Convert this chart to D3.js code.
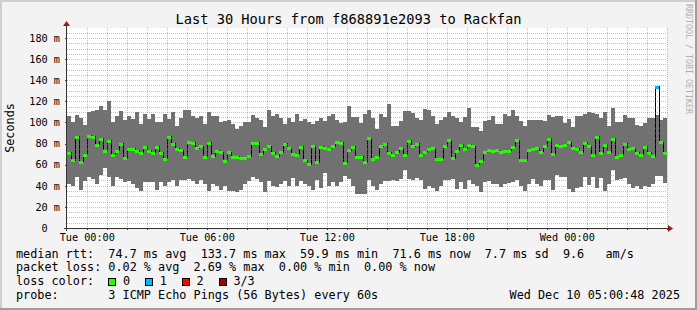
<!DOCTYPE html>
<html>
<head>
<meta charset="utf-8">
<script src="https://cdn.jsdelivr.net/npm/d3@7"></script>
<style>
  html, body { margin: 0; padding: 0; background: #f3f3f3; }
  svg { display: block; font-family: "DejaVu Sans Mono", monospace; }
  text { white-space: pre; }
</style>
</head>
<body>
<div id="graph-container"></div>
<script>
// Time range of the graph (last 30 hours) and 12 minute bins
var rangeStart = new Date(2025, 11, 8, 23, 0, 48);
var rangeEnd = new Date(2025, 11, 10, 5, 0, 48);
var binStart = new Date(2025, 11, 8, 23, 0, 0);
var binMinutes = 12;

// Smoke top (slowest ping), ms, one value per bin
var smokeHi = [
  106, 100, 107, 104.5, 97.6, 110, 110.8, 111.8, 115.6, 111.8, 120.3, 100.4, 106.1, 110.8, 102.3, 106.1, 103.3, 110, 98.5, 108, 103.3, 108, 100.4, 100.4, 108, 103.3, 110, 96.6, 104.2, 111.8,
  111.6, 105.9, 104, 105.9, 98.9, 109.7, 106.5, 106.5, 100.2, 101.4, 102.1, 98.3, 93.9, 96.4, 100.2, 100.2, 107.1, 104.6, 102.1, 95.8, 112.2, 105.9, 108.4, 104.6, 98.3, 104.6, 100.2, 108.4, 101.4, 103.3,
  100.2, 98.9, 101.4, 104.6, 101.4, 105.9, 108.4, 102.7, 99.6, 100.2, 115.4, 105.2, 105.2, 99.6, 108.4, 112.2, 104.6, 93.9, 107.8, 105.2, 117.9, 96.4, 97, 101.4, 110.9, 110.9, 109, 104.6, 102.1, 112.8,
  112.2, 105.9, 98.9, 102.1, 105.2, 110.3, 106.5, 104.6, 100.2, 105.2, 113.5, 95.8, 95.8, 92, 101.4, 102.1, 106.5, 98.9, 98.9, 107.8, 105.9, 112.2, 105.9, 101.4, 96.4, 102.1, 102.1, 102.1, 102.7, 101.4,
  107.1, 105.2, 105.9, 106.5, 99.6, 103.3, 95.8, 105.9, 105.9, 108.4, 110.3, 109, 107.8, 104.6, 110.3, 96.4, 114.1, 100.2, 100.2, 107.1, 104.6, 104.6, 97.7, 97, 99.6, 104, 104.6, 107, 102, 104.5
];

// Smoke bottom (fastest ping), ms
var smokeLo = [
  41.4, 39.5, 48.4, 36.4, 44.6, 48.4, 46.5, 42, 49.9, 57.2, 48.4, 39.5, 48.4, 46.5, 44, 44.6, 41.4, 38.2, 35.1, 43.6, 43.6, 43.6, 35.7, 43.6, 39.5, 43.6, 45.2, 40.1, 45.2, 45.2,
  46.5, 44.6, 41.4, 45.2, 41.4, 35.1, 41.4, 39.5, 35.7, 39.5, 35.1, 35.1, 34.5, 35.7, 41.4, 44.6, 48.4, 46.5, 43.3, 33.8, 44.6, 40.1, 38.9, 41.4, 44.6, 39.5, 47.7, 39.5, 44.6, 41.4,
  40.1, 36.4, 45.2, 38.2, 52.2, 39.5, 43.3, 39.5, 43.3, 49.6, 46.5, 39.5, 32.6, 32.6, 32.6, 45.2, 40.1, 36.4, 41.4, 44.6, 44.6, 45.2, 44.6, 46.5, 55.3, 46.5, 45.8, 47.7, 45.2, 37,
  39.5, 38.2, 35.1, 40.1, 45.2, 45.2, 46.5, 37, 43.9, 37, 45.2, 41.4, 39.5, 34.5, 43.3, 44.6, 42, 41.4, 38.9, 42, 42.7, 43.3, 45.2, 40.1, 35.1, 41.4, 46.5, 41.4, 40.1, 45.2,
  45.2, 35.7, 50, 48, 48, 37, 33.8, 38.2, 38.9, 48.4, 40.8, 48.4, 38.2, 47.7, 35.1, 41.4, 55, 45.2, 46.5, 47, 42, 37.6, 39.5, 37, 40.1, 38.9, 42, 49, 49, 42.7
];

// Median rtt, ms
var medianRtt = [
  71.1, 64.2, 86.3, 62.6, 69.2, 87.2, 86.3, 78.7, 84.4, 73, 82.5, 69.2, 73, 80, 66, 74.9, 74.9, 73, 71.1, 76.8, 73, 71.1, 76.8, 71.1, 65.4, 86.3, 80, 74.9, 73.6, 67.3,
  81.2, 80.6, 75.5, 77.4, 67.3, 80.6, 68, 73, 71.7, 63.5, 71.7, 67.3, 67.3, 66, 66, 68, 80.6, 80.6, 69.8, 74.9, 77.4, 71.1, 68, 71.7, 80, 75.5, 69.8, 69.2, 76.8, 64.2,
  60.4, 77.4, 62.3, 76.8, 75.5, 74.9, 77.4, 81.2, 80.6, 61.6, 73.6, 76.8, 67.3, 67.3, 62.3, 85, 65.4, 67.3, 77.4, 80, 71.1, 69.2, 71.7, 75.5, 69.2, 82.5, 77.4, 80, 69.2, 71.7,
  74.9, 75.5, 65.4, 65.4, 77.4, 83.1, 66, 73, 78.7, 74.9, 78.7, 77.4, 59.7, 63.5, 71.7, 73.6, 73, 73.6, 71.7, 73, 73, 76.8, 83.1, 64.2, 64.2, 73.6, 74.9, 75.5, 72.4, 77.4,
  84.4, 69.8, 78.7, 77.4, 78.7, 81.2, 75.5, 74.9, 71.7, 80.6, 77.4, 69.2, 86.3, 71.1, 78.7, 71.7, 84.4, 67.3, 69.2, 80, 74.9, 75.5, 71.1, 69.2, 76.8, 71.1, 68, 133.7, 81.2, 71.1
];

// Bins with lost pings (all others lost none)
var lossBins = [147];
var lossCounts = [1];

// Loss colour legend
var lossLabels = ["0", "1", "2", "3/3"];
var lossColors = ["#26ff00", "#00b8ff", "#ff0000", "#a00000"];

// Y axis ticks (ms)
var yTicks = [0, 20, 40, 60, 80, 100, 120, 140, 160, 180];

// Texts
var titleText = "Last 30 Hours from f868891e2093 to Rackfan";
var legendRows = [
  "median rtt:  74.7 ms avg  133.7 ms max  59.9 ms min  71.6 ms now  7.7 ms sd  9.6   am/s",
  "packet loss: 0.02 % avg  2.69 % max  0.00 % min  0.00 % now"
];
var lossLegendLabel = "loss color:";
var probeText = "probe:       3 ICMP Echo Pings (56 Bytes) every 60s";
var stampText = "Wed Dec 10 05:00:48 2025";

// Dimensions
var svgWidth = 697;
var svgHeight = 310;
var plot = { left: 67, right: 667, top: 28, bottom: 228 };

var container = d3.select("#graph-container");
var svg = container.append("svg")
  .attr("width", svgWidth)
  .attr("height", svgHeight);

// Background and frame
svg.append("rect").attr("width", svgWidth).attr("height", svgHeight).attr("fill", "#f3f3f3");
svg.append("rect").attr("x", 0).attr("y", 0).attr("width", svgWidth).attr("height", 2).attr("fill", "#cfcfcf");
svg.append("rect").attr("x", 0).attr("y", 0).attr("width", 2).attr("height", svgHeight).attr("fill", "#cfcfcf");
svg.append("rect").attr("x", 0).attr("y", svgHeight - 2).attr("width", svgWidth).attr("height", 2).attr("fill", "#9e9e9e");
svg.append("rect").attr("x", svgWidth - 2).attr("y", 0).attr("width", 2).attr("height", svgHeight).attr("fill", "#9e9e9e");

// Scales
var xScale = d3.scaleTime()
  .domain([rangeStart, rangeEnd])
  .range([plot.left, plot.right]);

var yScale = d3.scaleLinear()
  .domain([0, 189.47])
  .range([plot.bottom, plot.top]);

// Canvas
svg.append("rect")
  .attr("x", plot.left).attr("y", plot.top)
  .attr("width", plot.right - plot.left).attr("height", plot.bottom - plot.top)
  .attr("fill", "#ffffff");

svg.append("clipPath").attr("id", "clip")
  .append("rect")
  .attr("x", plot.left).attr("y", plot.top - 10)
  .attr("width", plot.right - plot.left).attr("height", plot.bottom - plot.top + 10);

// Build bins
var lossByBin = {};
lossBins.forEach(function (b, i) { lossByBin[b] = lossCounts[i]; });

var bins = medianRtt.map(function (m, i) {
  return {
    t0: d3.timeMinute.offset(binStart, i * binMinutes),
    t1: d3.timeMinute.offset(binStart, (i + 1) * binMinutes),
    hi: smokeHi[i],
    lo: smokeLo[i],
    med: m,
    loss: lossByBin[i] || 0
  };
});

var chart = svg.append("g").attr("clip-path", "url(#clip)");

// Smoke
chart.append("g")
  .selectAll("rect")
  .data(bins)
  .join("rect")
  .attr("x", function (d) { return xScale(d.t0); })
  .attr("width", function (d) { return xScale(d.t1) - xScale(d.t0); })
  .attr("y", function (d) { return yScale(d.hi); })
  .attr("height", function (d) { return yScale(d.lo) - yScale(d.hi); })
  .attr("fill", "#717171")
  .attr("shape-rendering", "crispEdges");

// Grid
var minorY = d3.range(5, 190, 5).filter(function (v) { return v % 20 !== 0; });
var majorY = yTicks.filter(function (v) { return v > 0; });
var hours = d3.timeHour.range(rangeStart, rangeEnd);
var minorX = hours.filter(function (h) { return h.getHours() % 3 !== 0; });
var majorX = hours.filter(function (h) { return h.getHours() % 3 === 0; });

var grid = svg.append("g")
  .attr("shape-rendering", "crispEdges")
  .attr("stroke-dasharray", "1,1");

grid.selectAll(".hminor").data(minorY).join("line")
  .attr("x1", plot.left).attr("x2", plot.right)
  .attr("y1", function (d) { return Math.round(yScale(d)) + 0.5; })
  .attr("y2", function (d) { return Math.round(yScale(d)) + 0.5; })
  .attr("stroke", "rgba(120,120,120,0.45)");

grid.selectAll(".vminor").data(minorX).join("line")
  .attr("y1", plot.top).attr("y2", plot.bottom)
  .attr("x1", function (d) { return Math.round(xScale(d)) + 0.5; })
  .attr("x2", function (d) { return Math.round(xScale(d)) + 0.5; })
  .attr("stroke", "rgba(120,120,120,0.45)");

grid.selectAll(".hmajor").data(majorY).join("line")
  .attr("x1", plot.left).attr("x2", plot.right)
  .attr("y1", function (d) { return Math.round(yScale(d)) + 0.5; })
  .attr("y2", function (d) { return Math.round(yScale(d)) + 0.5; })
  .attr("stroke", "rgba(255,50,50,0.4)");

grid.selectAll(".vmajor").data(majorX).join("line")
  .attr("y1", plot.top).attr("y2", plot.bottom)
  .attr("x1", function (d) { return Math.round(xScale(d)) + 0.5; })
  .attr("x2", function (d) { return Math.round(xScale(d)) + 0.5; })
  .attr("stroke", "rgba(255,50,50,0.4)");

// Median step line
var medPoints = bins.map(function (d) { return [xScale(d.t0), yScale(d.med)]; });
medPoints.push([xScale(bins[bins.length - 1].t1), yScale(bins[bins.length - 1].med)]);

var line = d3.line().curve(d3.curveStepAfter);

chart.append("path")
  .attr("d", line(medPoints))
  .attr("transform", "translate(0.5,0)")
  .attr("fill", "none")
  .attr("stroke", "#000000")
  .attr("stroke-width", 1)
  .attr("shape-rendering", "crispEdges");

// Median coloured by loss
chart.append("g")
  .selectAll("rect")
  .data(bins)
  .join("rect")
  .attr("x", function (d) { return xScale(d.t0); })
  .attr("width", function (d) { return xScale(d.t1) - xScale(d.t0); })
  .attr("y", function (d) { return Math.round(yScale(d.med)) - 1; })
  .attr("height", 3)
  .attr("fill", function (d) { return lossColors[d.loss]; })
  .attr("shape-rendering", "crispEdges");

// X axis
var fmt = d3.timeFormat("%a %H:%M");
var xAxis = d3.axisBottom(xScale)
  .tickValues(hours)
  .tickFormat(function (d) { return d.getHours() % 6 === 0 ? fmt(d) : ""; })
  .tickSize(2)
  .tickSizeOuter(0)
  .tickPadding(3.5);

var gx = svg.append("g")
  .attr("transform", "translate(0," + plot.bottom + ")")
  .call(xAxis);
gx.select(".domain").remove();
gx.selectAll("line").attr("stroke", "#444").attr("shape-rendering", "crispEdges");
gx.selectAll("text")
  .attr("fill", "#000")
  .style("font-family", "DejaVu Sans Mono")
  .style("font-size", "10.2px");

// Y axis
var yAxis = d3.axisLeft(yScale)
  .tickValues(yTicks)
  .tickFormat(function (d) { return d === 0 ? "0  " : d + " m"; })
  .tickSize(2)
  .tickSizeOuter(0)
  .tickPadding(5);

var gy = svg.append("g")
  .attr("transform", "translate(" + plot.left + ",0)")
  .call(yAxis);
gy.select(".domain").remove();
gy.selectAll("line").attr("stroke", "#444").attr("shape-rendering", "crispEdges");
gy.selectAll("text")
  .attr("fill", "#000")
  .style("font-family", "DejaVu Sans Mono")
  .style("font-size", "10.2px");

// Axis lines and arrows
svg.append("line")
  .attr("x1", plot.left - 3).attr("x2", plot.right + 1)
  .attr("y1", plot.bottom + 0.5).attr("y2", plot.bottom + 0.5)
  .attr("stroke", "#333").attr("shape-rendering", "crispEdges");
svg.append("line")
  .attr("x1", plot.left - 0.5).attr("x2", plot.left - 0.5)
  .attr("y1", plot.bottom + 3).attr("y2", plot.top - 3)
  .attr("stroke", "#333").attr("shape-rendering", "crispEdges");

svg.append("path")
  .attr("d", "M" + (plot.right + 1) + "," + (plot.bottom - 3) + "L" + (plot.right + 6) + "," + (plot.bottom + 0.5) + "L" + (plot.right + 1) + "," + (plot.bottom + 4) + "Z")
  .attr("fill", "#9a1c1c");
svg.append("path")
  .attr("d", "M" + (plot.left - 4) + "," + (plot.top - 2) + "L" + (plot.left - 0.5) + "," + (plot.top - 7) + "L" + (plot.left + 3) + "," + (plot.top - 2) + "Z")
  .attr("fill", "#9a1c1c");

// Title
svg.append("text")
  .attr("x", svgWidth / 2)
  .attr("y", 24)
  .attr("text-anchor", "middle")
  .style("font-size", "13.7px")
  .attr("fill", "#000")
  .text(titleText);

// Vertical axis title
svg.append("text")
  .attr("transform", "translate(14," + ((plot.top + plot.bottom) / 2) + ") rotate(-90)")
  .attr("text-anchor", "middle")
  .style("font-size", "11.8px")
  .attr("fill", "#000")
  .text("Seconds");

// Watermark
svg.append("text")
  .attr("transform", "translate(686,4) rotate(90)")
  .attr("text-anchor", "start")
  .style("font-size", "8.3px")
  .attr("fill", "#b0b0b0")
  .text("RRDTOOL / TOBI OETIKER");

// Legend
var legend = svg.append("g").style("font-size", "11.8px").attr("fill", "#000");
legendRows.forEach(function (row, i) {
  legend.append("text").attr("x", 16).attr("y", 257.5 + i * 13.8).text(row);
});
legend.append("text").attr("x", 16).attr("y", 285).text(lossLegendLabel);

lossLabels.forEach(function (lab, i) {
  legend.append("rect")
    .attr("x", 108.5 + i * 36.9).attr("y", 278.5)
    .attr("width", 7).attr("height", 7)
    .attr("fill", lossColors[i])
    .attr("stroke", "#000").attr("stroke-width", 1)
    .attr("shape-rendering", "crispEdges");
  legend.append("text")
    .attr("x", 123 + i * 36.8).attr("y", 285)
    .text(lab);
});

legend.append("text").attr("x", 16).attr("y", 299).text(probeText);
legend.append("text").attr("x", 680).attr("y", 299).attr("text-anchor", "end").text(stampText);
</script>
</body>
</html>
